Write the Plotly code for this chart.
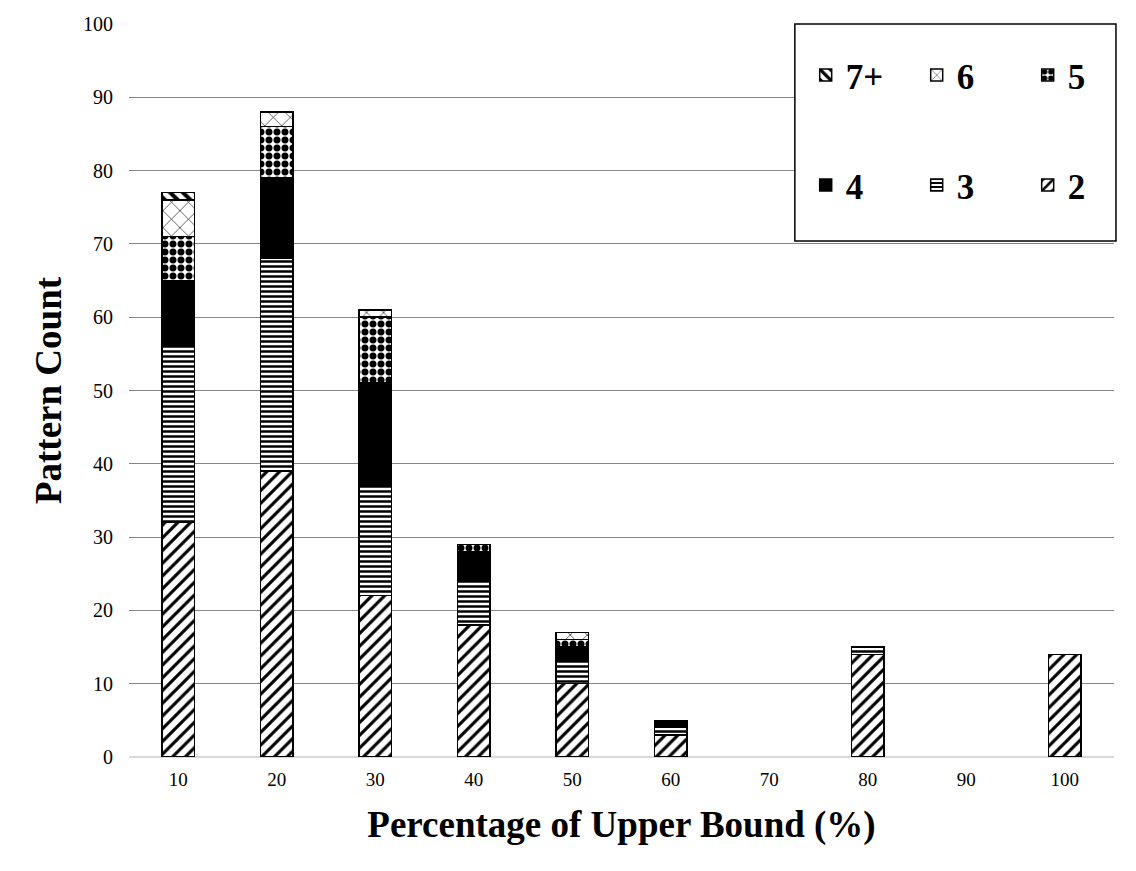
import plotly.graph_objects as go

categories = ["10", "20", "30", "40", "50", "60", "70", "80", "90", "100"]

# pattern counts per group size
size2 = [32, 39, 22, 18, 10, 3, 0, 14, 0, 14]
size3 = [24, 29, 15, 6, 3, 1, 0, 1, 0, 0]
size4 = [9, 11, 14, 4, 2, 1, 0, 0, 0, 0]
size5 = [6, 7, 9, 1, 1, 0, 0, 0, 0, 0]
size6 = [5, 2, 1, 0, 1, 0, 0, 0, 0, 0]
size7 = [1, 0, 0, 0, 0, 0, 0, 0, 0, 0]

serif = "Liberation Serif, Times New Roman, serif"

series = [
    ("2", size2, dict(shape="/", size=9, solidity=0.35), "legend2"),
    ("3", size3, dict(shape="-", size=5, solidity=0.5), "legend2"),
    ("4", size4, None, "legend2"),
    ("5", size5, dict(shape=".", size=8, solidity=0.6), "legend"),
    ("6", size6, dict(shape="x", size=12, solidity=0.1), "legend"),
    ("7+", size7, dict(shape="\\", size=9, solidity=0.45), "legend"),
]

fig = go.Figure()
for name, vals, pat, leg in series:
    # no outline on empty segments
    widths = [1.5 if v else 0 for v in vals]
    marker = dict(color="white", line=dict(color="black", width=widths))
    if pat is None:
        marker["color"] = "black"
    else:
        marker["pattern"] = dict(fgcolor="black", bgcolor="white", fillmode="replace", **pat)
    fig.add_trace(go.Bar(x=categories, y=vals, name=name, marker=marker, legend=leg))

# legend frame
fig.add_shape(type="rect", xref="paper", yref="paper",
              x0=0.676, x1=1.002, y0=0.704, y1=1.0,
              line=dict(color="black", width=1.5), fillcolor="white", layer="above")

leg_font = dict(family=serif, size=35, color="black", weight="bold")
fig.update_layout(
    width=1136, height=871,
    margin=dict(l=121, r=30, t=16, b=122, autoexpand=False),
    paper_bgcolor="white", plot_bgcolor="white",
    barmode="stack", bargap=0.675,
    font=dict(family=serif, color="black"),
    legend=dict(orientation="h", x=0.687, y=0.930, yanchor="middle", xanchor="left",
                entrywidth=66, traceorder="reversed", font=leg_font,
                bgcolor="rgba(0,0,0,0)"),
    legend2=dict(orientation="h", x=0.687, y=0.780, yanchor="middle", xanchor="left",
                 entrywidth=66, traceorder="reversed", font=leg_font,
                 bgcolor="rgba(0,0,0,0)"),
    xaxis=dict(type="category", tickfont=dict(size=19, family=serif),
               ticklabelstandoff=9,
               title=dict(text="Percentage of Upper Bound (%)",
                          font=dict(size=37, family=serif, weight="bold"), standoff=22),
               showline=False, ticks=""),
    yaxis=dict(range=[0, 100], dtick=10, tickfont=dict(size=20, family=serif),
               ticklabelstandoff=15,
               gridcolor="#868686", gridwidth=1, zeroline=True, zerolinecolor="#d9d9d9",
               zerolinewidth=1.5, ticks="", ticklen=0,
               title=dict(text="Pattern Count",
                          font=dict(size=37, family=serif, weight="bold"), standoff=10)),
)

fig.write_html("out.html")
